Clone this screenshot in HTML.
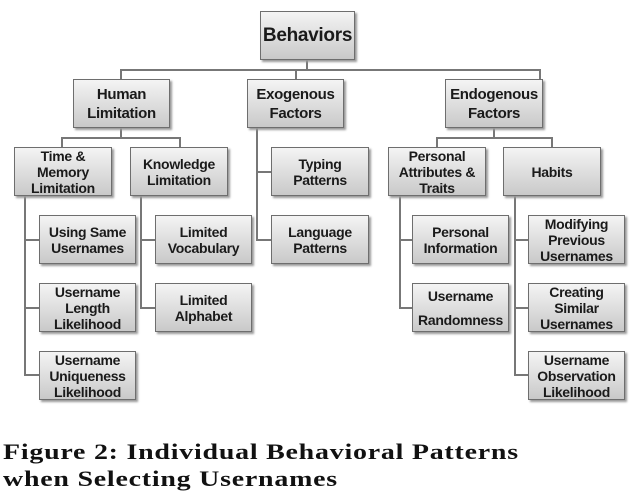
<!DOCTYPE html>
<html><head><meta charset="utf-8"><style>
body{margin:0;width:639px;height:499px;background:#fff;position:relative;overflow:hidden;font-family:"Liberation Sans",sans-serif}
.b{position:absolute;box-sizing:border-box;border:1px solid #6e6e6e;background:linear-gradient(#f4f4f4,#c9c9c9);box-shadow:2px 2px 2px #999;display:flex;align-items:center;justify-content:center;text-align:center;font-weight:bold;font-size:14px;line-height:16px;color:#1a1a1a;letter-spacing:-0.3px}
.cap{position:absolute;left:3px;font-family:"Liberation Serif",serif;font-weight:bold;font-size:22px;color:#111;letter-spacing:0.6px;transform:scaleX(1.27);transform-origin:left top;white-space:nowrap}
svg{position:absolute;left:0;top:0}
</style></head><body>
<svg width="639" height="499"><g stroke="#777" stroke-width="2" fill="none">
<path d="M307 60V70M121 80V70H540V80M296 70V80"/>
<path d="M121 128V138M62 147V138H180V147"/>
<path d="M25 196V375H39M25 240H39M25 308H39"/>
<path d="M141 196V308H155M141 240H155"/>
<path d="M257 128V240H271M257 172H271"/>
<path d="M494 128V138M437 147V138H552V147"/>
<path d="M400 196V308H412M400 240H412"/>
<path d="M515 196V375H528M515 240H528M515 308H528"/>
</g></svg>
<div class="b" style="left:260px;top:11px;width:95px;height:49px;font-size:19px">Behaviors</div>
<div class="b" style="left:73px;top:79px;width:97px;height:49px;font-size:15px;line-height:19px">Human<br>Limitation</div>
<div class="b" style="left:247px;top:79px;width:97px;height:49px;font-size:15px;line-height:19px">Exogenous<br>Factors</div>
<div class="b" style="left:445px;top:79px;width:98px;height:49px;font-size:15px;line-height:19px">Endogenous<br>Factors</div>
<div class="b" style="left:14px;top:147px;width:98px;height:49px">Time &amp;<br>Memory<br>Limitation</div>
<div class="b" style="left:130px;top:147px;width:98px;height:49px">Knowledge<br>Limitation</div>
<div class="b" style="left:271px;top:147px;width:98px;height:49px">Typing<br>Patterns</div>
<div class="b" style="left:388px;top:147px;width:98px;height:49px">Personal<br>Attributes &amp;<br>Traits</div>
<div class="b" style="left:503px;top:147px;width:98px;height:49px">Habits</div>
<div class="b" style="left:39px;top:215px;width:97px;height:49px">Using Same<br>Usernames</div>
<div class="b" style="left:39px;top:283px;width:97px;height:49px">Username<br>Length<br>Likelihood</div>
<div class="b" style="left:39px;top:351px;width:97px;height:49px">Username<br>Uniqueness<br>Likelihood</div>
<div class="b" style="left:155px;top:215px;width:97px;height:49px">Limited<br>Vocabulary</div>
<div class="b" style="left:155px;top:283px;width:97px;height:49px">Limited<br>Alphabet</div>
<div class="b" style="left:271px;top:215px;width:98px;height:49px">Language<br>Patterns</div>
<div class="b" style="left:412px;top:215px;width:97px;height:49px">Personal<br>Information</div>
<div class="b" style="left:412px;top:283px;width:97px;height:49px;line-height:24px">Username<br>Randomness</div>
<div class="b" style="left:528px;top:215px;width:97px;height:49px">Modifying<br>Previous<br>Usernames</div>
<div class="b" style="left:528px;top:283px;width:97px;height:49px">Creating<br>Similar<br>Usernames</div>
<div class="b" style="left:528px;top:351px;width:97px;height:49px">Username<br>Observation<br>Likelihood</div>
<div class="cap" style="top:439px">Figure 2: Individual Behavioral Patterns</div>
<div class="cap" style="top:466px">when Selecting Usernames</div>
</body></html>
